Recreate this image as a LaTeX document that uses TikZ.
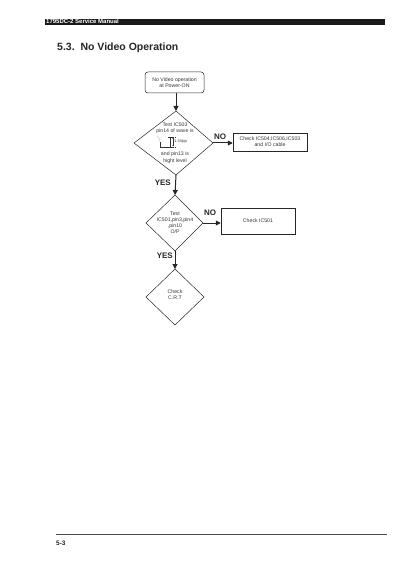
\documentclass[tikz,border=0pt]{standalone}
\usepackage{fontspec}
\setmainfont{Liberation Sans}
\usetikzlibrary{shapes.geometric,arrows.meta}
\begin{document}
\begin{tikzpicture}[x=1pt,y=-1pt,
  flow/.style={draw=black!85,line width=0.5pt},
  arr/.style={draw=black!85,line width=1pt,-{Triangle[length=5pt,width=5pt]}},
  txt/.style={font=\fontsize{5.2}{6}\selectfont,align=center,text=black!80},
  lab/.style={font=\fontsize{8}{9}\selectfont\bfseries,text=black!85},
  dia/.style={flow,diamond,minimum width=0pt,inner sep=0pt}]
\useasboundingbox (0,0) rectangle (400,572);
% header
\fill[black!90] (45,19) rectangle (385,25);
\node[anchor=west,inner sep=0pt,text=white,font=\fontsize{6}{6}\selectfont\bfseries] (hdr) at (46,21) {1795DC-2 Service Manual};
\node[anchor=base west,inner sep=0pt,font=\fontsize{10.5}{12}\selectfont\bfseries,text=black!85] (title) at (57,51) {5.3.\ \ No Video Operation};
% start
\node[flow,rounded corners=3pt,minimum width=59pt,minimum height=21pt,inner sep=0pt,txt] (start) at (174.5,82.5) {No Video operation\\at Power-ON};
% diamond 1
\path[flow] (176,111) coordinate (d1t) -- (213,143) coordinate (d1r) -- (176,175) coordinate (d1b) -- (134,143) coordinate (d1l) -- cycle;
\node[txt,inner sep=0pt] (d1a) at (175,125) {Test IC503};
\node[txt,inner sep=0pt] (d1b1) at (175,131) {pin14 of wave is};
\node[txt,inner sep=0pt] (d1c) at (175,154) {and pin13 is};
\node[txt,inner sep=0pt] (d1d) at (175,161) {hight level};
% waveform
\draw[black!80,line width=0.4pt,densely dotted] (157,136) .. controls (159,137) and (160,139) .. (160,142);
\draw[black!80,line width=0.4pt] (160,142) -- (160,147) -- (170,147) -- (170,137);
\draw[black!80,line width=0.3pt,densely dotted] (168,137) -- (175,137) (168,147) -- (175,147);
\draw[black!80,line width=0.3pt,{Stealth[length=1.5pt]}-{Stealth[length=1.5pt]}] (173,137.5) -- (173,146.5);
\node[txt,anchor=west,inner sep=0pt,font=\fontsize{4}{5}\selectfont] (vpp) at (174,142) {1.4Vpp};
% box 1
\node[flow,minimum width=74pt,minimum height=18pt,inner sep=0pt,txt] (box1) at (270,142) {Check IC504,IC506,IC503\\and I/O cable};
% diamond 2
\path[flow] (175,195) coordinate (d2t) -- (203,223) coordinate (d2r) -- (175,251) coordinate (d2b) -- (146,223) coordinate (d2l) -- cycle;
\node[txt,inner sep=0pt] (d2txt) at (175,223) {Test\\IC501,pin3,pin4\\,pin10\\O/P};
\node[flow,minimum width=74pt,minimum height=26pt,inner sep=0pt,txt] (box2) at (258,221) {Check IC501};
% diamond 3
\path[flow] (175,269) coordinate (d3t) -- (204,297) coordinate (d3r) -- (175,325) coordinate (d3b) -- (146,297) coordinate (d3l) -- cycle;
\node[txt,inner sep=0pt] (d3txt) at (175,295) {Check\\C.R.T};
% arrows
\draw[arr] (start.south -| d1t) -- (d1t);
\draw[arr] (d1r) -- (box1.west |- d1r);
\draw[arr] (d1b) -- (d2t);
\draw[arr] (d2r) -- (box2.west |- d2r);
\draw[arr] (d2b) -- (d3t);
% labels
\node[lab,anchor=west,inner sep=0pt] (no1) at (214,137) {NO};
\node[lab,anchor=east,inner sep=0pt] (yes1) at (171,183) {YES};
\node[lab,anchor=west,inner sep=0pt] (no2) at (204,213) {NO};
\node[lab,anchor=east,inner sep=0pt] (yes2) at (173,256) {YES};
% footer
\draw[black!70,line width=0.8pt] (56,534) -- (387,534);
\node[anchor=west,inner sep=0pt,font=\fontsize{6.5}{8}\selectfont\bfseries,text=black!85] (pg) at (56,543) {5-3};
\end{tikzpicture}
\end{document}
